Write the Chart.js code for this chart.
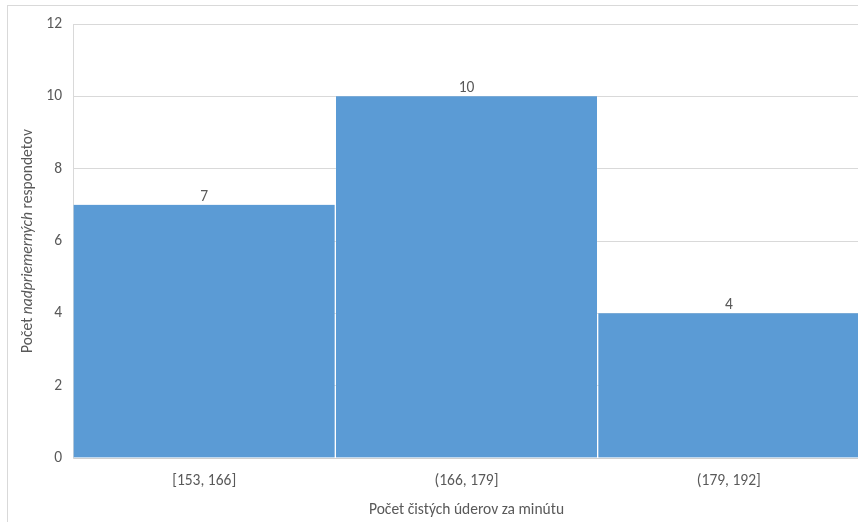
<!DOCTYPE html>
<html>
<head>
<meta charset="utf-8">
<script src="https://cdn.jsdelivr.net/npm/chart.js@4.4.1/dist/chart.umd.min.js"></script>
<style>
    html, body { margin: 0; padding: 0; background: #fff; overflow: hidden; width: 858px; height: 522px; }
    #wrap { position: absolute; left: 0; top: 0; width: 862px; height: 522px; }
    #frame { position: absolute; left: 7px; top: 5px; width: 900px; height: 600px; border: 1px solid #d9d9d9; pointer-events: none; }
</style>
</head>
<body>
<div id="frame"></div>
<div id="wrap"><canvas id="histChart" width="862" height="522"></canvas></div>
<script>
// histogram data
const binLabels = ['[153, 166]', '(166, 179]', '(179, 192]'];
const counts = [7, 10, 4];
const yTicks = [0, 2, 4, 6, 8, 10, 12];

const xTitle = 'Počet čistých úderov za minútu';
// y title has an italic middle word
const yTitleParts = [
    { text: 'Počet ', italic: false },
    { text: 'nadpriemerných', italic: true },
    { text: ' respondetov', italic: false }
];

const FONT = "Carlito, Calibri, Lato, 'Open Sans', sans-serif";
const FONT_SIZE = 15.5;
const TEXT_COLOR = '#595959';

// draws the values over bars and both axis titles
const labelsPlugin = {
    id: 'histLabels',
    afterDatasetsDraw(chart) {
        const ctx = chart.ctx;
        const area = chart.chartArea;
        ctx.save();
        ctx.fillStyle = TEXT_COLOR;
        ctx.font = FONT_SIZE + 'px ' + FONT;
        ctx.textAlign = 'center';
        ctx.textBaseline = 'middle';
        chart.getDatasetMeta(0).data.forEach((bar, i) => {
            ctx.fillText(String(counts[i]), bar.x, bar.y - 8);
        });

        // x title
        ctx.fillText(xTitle, (area.left + area.right) / 2, 510);

        // y title, rotated, mixed italic
        ctx.translate(28, (area.top + area.bottom) / 2);
        ctx.rotate(-Math.PI / 2);
        let total = 0;
        yTitleParts.forEach(p => {
            ctx.font = (p.italic ? 'italic ' : '') + FONT_SIZE + 'px ' + FONT;
            total += ctx.measureText(p.text).width;
        });
        let x = -total / 2;
        ctx.textAlign = 'left';
        yTitleParts.forEach(p => {
            ctx.font = (p.italic ? 'italic ' : '') + FONT_SIZE + 'px ' + FONT;
            ctx.fillText(p.text, x, 0);
            x += ctx.measureText(p.text).width;
        });
        ctx.restore();
    }
};

const ctx = document.getElementById('histChart').getContext('2d');
new Chart(ctx, {
    type: 'bar',
    data: {
        labels: binLabels,
        datasets: [{
            data: counts,
            backgroundColor: '#5b9bd5',
            borderColor: 'rgba(255,255,255,0.12)',
            borderWidth: { left: 1, right: 1, top: 0, bottom: 0 },
            barPercentage: 1,
            categoryPercentage: 1
        }]
    },
    options: {
        responsive: false,
        animation: false,
        layout: { padding: { top: 24, right: 2, left: 0, bottom: 0 } },
        plugins: {
            legend: { display: false },
            tooltip: { enabled: false }
        },
        scales: {
            x: {
                offset: true,
                grid: { display: false, drawTicks: false },
                border: { display: true, color: '#d0d0d0' },
                ticks: { color: TEXT_COLOR, font: { family: FONT, size: FONT_SIZE }, padding: 14 },
                afterFit(scale) { scale.height = 64; }
            },
            y: {
                min: 0,
                max: 12,
                afterBuildTicks(scale) { scale.ticks = yTicks.map(v => ({ value: v })); },
                grid: { color: '#d9d9d9', drawTicks: false },
                border: { display: true, color: '#d9d9d9' },
                ticks: { color: TEXT_COLOR, font: { family: FONT, size: FONT_SIZE }, padding: 11 },
                afterFit(scale) { scale.width = 73; }
            }
        }
    },
    plugins: [labelsPlugin]
});
</script>
</body>
</html>
